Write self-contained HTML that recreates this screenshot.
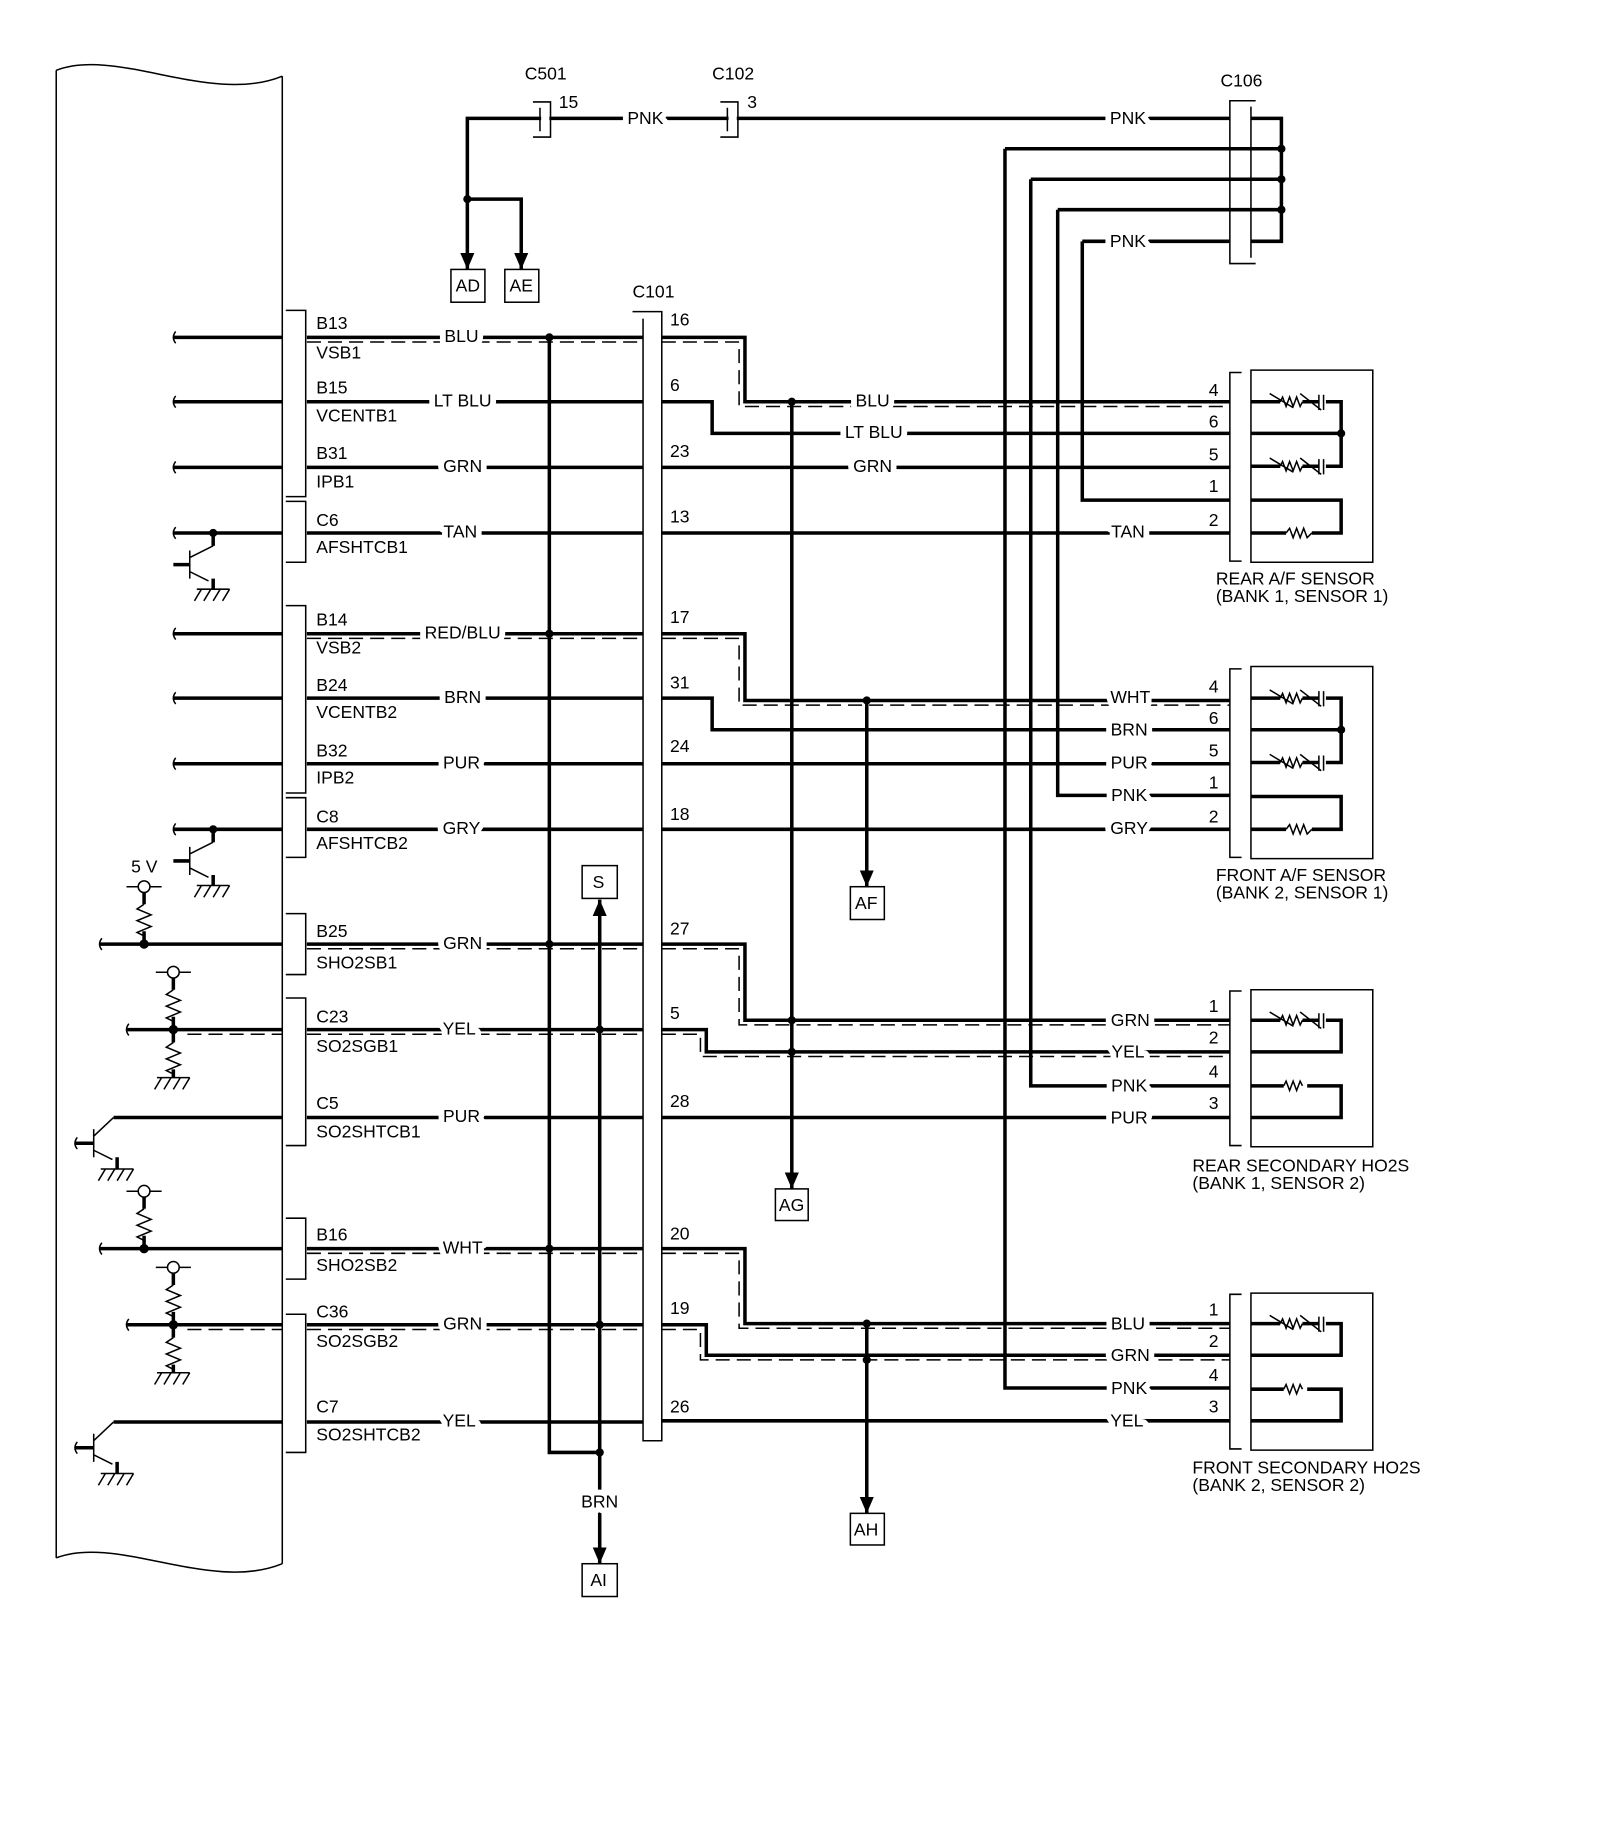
<!DOCTYPE html>
<html><head><meta charset="utf-8"><style>
html,body{margin:0;padding:0;background:#fff}
svg{display:block}
text{font-family:"Liberation Sans",sans-serif;font-size:15px;fill:#000}
.w{stroke:#000;stroke-width:3;fill:none}
.t{stroke:#000;stroke-width:1.3;fill:none}
.d{stroke:#000;stroke-width:1.3;fill:none;stroke-dasharray:12,6}
.lb{paint-order:stroke;stroke:#fff;stroke-width:10px;stroke-linejoin:round}
</style></head><body>
<svg width="1600" height="1839" viewBox="0 0 1366 1570" xmlns="http://www.w3.org/2000/svg">
<defs>
<marker id="ar" markerWidth="16" markerHeight="14" refX="14" refY="7" orient="auto" markerUnits="userSpaceOnUse"><path d="M0,1 L14,7 L0,13 Z" fill="#000"/></marker>
</defs>
<!-- ECM -->
<path class="t" d="M48,60 C100,40 180,90 241,65 M48,60 V1330 M241,65 V1335 M48,1330 C100,1310 180,1360 241,1335"/>
<!-- ECM brackets -->
<path class="t" d="M244,265 H261 V424 H244 M244,428 H261 V480 H244 M244,517 H261 V677 H244 M244,681 H261 V732 H244 M244,780 H261 V832 H244 M244,852 H261 V978 H244 M244,1040 H261 V1092 H244 M244,1122 H261 V1240 H244"/>
<!-- left wires -->
<path class="w" d="M148,288H241 M148,343H241 M148,399H241 M148,455H241 M148,541H241 M148,596H241 M148,652H241 M148,708H241 M85,806H241 M108,879H241 M97,954H241 M85,1066H241 M108,1131H241 M97,1214H241"/>
<path class="t" d="M150,283 q-4,5 0,10 M150,338 q-4,5 0,10 M150,394 q-4,5 0,10 M150,450 q-4,5 0,10 M150,536 q-4,5 0,10 M150,591 q-4,5 0,10 M150,647 q-4,5 0,10 M150,703 q-4,5 0,10 M87,801 q-4,5 0,10 M110,874 q-4,5 0,10 M87,1061 q-4,5 0,10 M110,1126 q-4,5 0,10"/>
<!-- transistors C6, C8 -->
<g id="tr1">
<circle cx="182" cy="455" r="3.5"/>
<path class="w" d="M182,455 V466 M182,494 V503 M148,482 H162"/>
<path class="t" d="M162,470 V494 M162,476 L182,466 M162,488 L178,496 M168,503 H196 M172,503 l-6,10 M180,503 l-6,10 M188,503 l-6,10 M196,503 l-6,10"/>
</g>
<use href="#tr1" y="253"/>
<!-- C5 / C7 transistors -->
<g id="tr2">
<path class="w" d="M64,976 H80 M100,988 V998"/>
<path class="t" d="M80,964 V988 M80,970 L97,954 M80,982 L96,990 M86,998 H114 M90,998 l-6,10 M98,998 l-6,10 M106,998 l-6,10 M114,998 l-6,10 M66,971 q-4,5 0,10"/>
</g>
<use href="#tr2" y="260"/>
<!-- 5V pullups -->
<text x="112" y="745">5 V</text>
<g id="pu1">
<circle cx="123" cy="757" r="5" fill="#fff" stroke="#000" stroke-width="1.3"/>
<path class="t" d="M108,757 H118 M128,757 H138 M123,772 l-6,4 l12,5 l-12,5 l12,5 l-12,5 l6,3"/>
<path class="w" d="M123,762 V772 M123,795 V806"/>
<circle cx="123" cy="806" r="4"/>
</g>
<use href="#pu1" y="260"/>
<g id="pu2">
<circle cx="148" cy="830" r="5" fill="#fff" stroke="#000" stroke-width="1.3"/>
<path class="t" d="M133,830 H143 M153,830 H163 M148,845 l-6,4 l12,5 l-12,5 l12,5 l-12,5 l6,3 M148,890 l-6,4 l12,5 l-12,5 l12,5 l-12,5 l6,3 M134,920 H162 M138,920 l-6,10 M146,920 l-6,10 M154,920 l-6,10 M162,920 l-6,10"/>
<path class="w" d="M148,835 V845 M148,868 V890 M148,913 V920"/>
<circle cx="148" cy="879" r="4"/>
<path class="d" d="M160,883 H241"/>
</g>
<use href="#pu2" y="252"/>
<!-- ECM pin labels -->
<g>
<text x="270" y="281">B13</text><text x="270" y="306">VSB1</text>
<text x="270" y="336">B15</text><text x="270" y="360">VCENTB1</text>
<text x="270" y="392">B31</text><text x="270" y="416">IPB1</text>
<text x="270" y="449">C6</text><text x="270" y="472">AFSHTCB1</text>
<text x="270" y="534">B14</text><text x="270" y="558">VSB2</text>
<text x="270" y="590">B24</text><text x="270" y="613">VCENTB2</text>
<text x="270" y="646">B32</text><text x="270" y="669">IPB2</text>
<text x="270" y="702">C8</text><text x="270" y="725">AFSHTCB2</text>
<text x="270" y="800">B25</text><text x="270" y="827">SHO2SB1</text>
<text x="270" y="873">C23</text><text x="270" y="898">SO2SGB1</text>
<text x="270" y="947">C5</text><text x="270" y="971">SO2SHTCB1</text>
<text x="270" y="1059">B16</text><text x="270" y="1085">SHO2SB2</text>
<text x="270" y="1125">C36</text><text x="270" y="1150">SO2SGB2</text>
<text x="270" y="1206">C7</text><text x="270" y="1230">SO2SHTCB2</text>
</g>
<!-- wires ECM -> C101 -->
<path class="w" d="M262,288H549 M262,343H549 M262,399H549 M262,455H549 M262,541H549 M262,596H549 M262,652H549 M262,708H549 M262,806H549 M262,879H549 M262,954H549 M262,1066H549 M262,1131H549 M262,1214H549"/>
<path class="d" d="M262,292H549 M262,545H549 M262,810H549 M262,883H549 M262,1070H549 M262,1135H549"/>
<!-- bus 469 / 512 -->
<path class="w" d="M469,288 V1240 H512"/>
<path class="w" d="M512,1240 V768" marker-end="url(#ar)" />
<path class="w" d="M512,1240 V1335" marker-end="url(#ar)"/>
<g fill="#000"><circle cx="469" cy="288" r="3.5"/><circle cx="469" cy="541" r="3.5"/><circle cx="469" cy="806" r="3.5"/><circle cx="469" cy="1066" r="3.5"/><circle cx="512" cy="879" r="3.5"/><circle cx="512" cy="1131" r="3.5"/><circle cx="512" cy="1240" r="3.5"/></g>
<rect x="497" y="739" width="30" height="28" class="t" fill="#fff"/><text x="506" y="758">S</text>
<text x="512" y="1287" text-anchor="middle" class="lb">BRN</text>
<rect x="497" y="1335" width="30" height="28" class="t" fill="#fff"/><text x="504" y="1354">AI</text>
<!-- color labels left -->
<g text-anchor="middle">
<text class="lb" x="394" y="292">BLU</text><text class="lb" x="395" y="347">LT BLU</text><text class="lb" x="395" y="403">GRN</text><text class="lb" x="393" y="459">TAN</text>
<text class="lb" x="395" y="545">RED/BLU</text><text class="lb" x="395" y="600">BRN</text><text class="lb" x="394" y="656">PUR</text><text class="lb" x="394" y="712">GRY</text>
<text class="lb" x="395" y="810">GRN</text><text class="lb" x="392" y="883">YEL</text><text class="lb" x="394" y="958">PUR</text>
<text class="lb" x="395" y="1070">WHT</text><text class="lb" x="395" y="1135">GRN</text><text class="lb" x="392" y="1218">YEL</text>
</g>
<!-- C101 -->
<text x="540" y="254">C101</text>
<path class="t" d="M540,266 H565 V1230 H549 V272"/>
<g>
<text x="572" y="278">16</text><text x="572" y="334">6</text><text x="572" y="390">23</text><text x="572" y="446">13</text>
<text x="572" y="532">17</text><text x="572" y="588">31</text><text x="572" y="642">24</text><text x="572" y="700">18</text>
<text x="572" y="798">27</text><text x="572" y="870">5</text><text x="572" y="945">28</text>
<text x="572" y="1058">20</text><text x="572" y="1122">19</text><text x="572" y="1206">26</text>
</g>
<!-- C101 -> right -->
<path class="w" d="M565,288 H636 V343 H1050 M565,343 H608 V370 H1050 M565,399 H1050 M565,455 H1050
M565,541 H636 V598 H1050 M565,596 H608 V623 H1050 M565,652 H1050 M565,708 H1050
M565,806 H636 V871 H1050 M565,879 H603 V898 H1050 M565,954 H1050
M565,1066 H636 V1130 H1050 M565,1131 H603 V1157 H1050 M565,1213 H1050"/>
<path class="d" d="M565,292 H631 V347 H1050 M565,545 H631 V602 H1050 M565,810 H631 V875 H1050 M565,883 H598 V902 H1050 M565,1070 H631 V1134 H1050 M565,1135 H598 V1161 H1050"/>
<!-- taps -->
<path class="w" d="M676,343 V1015" marker-end="url(#ar)"/>
<path class="w" d="M740,598 V757" marker-end="url(#ar)"/>
<path class="w" d="M740,1130 V1292" marker-end="url(#ar)"/>
<g fill="#000"><circle cx="676" cy="343" r="3.5"/><circle cx="676" cy="871" r="3.5"/><circle cx="676" cy="898" r="3.5"/><circle cx="740" cy="598" r="3.5"/><circle cx="740" cy="1130" r="3.5"/><circle cx="740" cy="1161" r="3.5"/></g>
<rect x="662" y="1015" width="28" height="27" class="t" fill="#fff"/><text x="665" y="1034">AG</text>
<rect x="726" y="757" width="29" height="28" class="t" fill="#fff"/><text x="730" y="776">AF</text>
<rect x="726" y="1292" width="29" height="27" class="t" fill="#fff"/><text x="729" y="1311">AH</text>
<!-- mid labels -->
<g text-anchor="middle">
<text class="lb" x="745" y="347">BLU</text><text class="lb" x="746" y="374">LT BLU</text><text class="lb" x="745" y="403">GRN</text>
</g>
<!-- top PNK -->
<text x="448" y="68">C501</text><text x="608" y="68">C102</text>
<path class="w" d="M1050,101 H399 V230" marker-end="url(#ar)"/>
<path class="w" d="M399,170 H445 V230" marker-end="url(#ar)"/>
<circle cx="399" cy="170" r="3.5"/>
<path class="t" d="M455,87 H470 V117 H455 M461,92 V112 M615,87 H630 V117 H615 M621,92 V112"/>
<rect x="462" y="99" width="7" height="5" fill="#fff"/><rect x="622" y="99" width="7" height="5" fill="#fff"/>
<text x="477" y="92">15</text><text x="638" y="92">3</text>
<text class="lb" x="551" y="106" text-anchor="middle">PNK</text>
<rect x="385" y="230" width="29" height="28" class="t" fill="#fff"/><text x="389" y="249">AD</text>
<rect x="431" y="230" width="29" height="28" class="t" fill="#fff"/><text x="435" y="249">AE</text>
<!-- C106 -->
<text x="1042" y="74">C106</text>
<path class="t" d="M1072,86 H1050 V225 H1072 M1068,91 V220"/>
<path class="w" d="M1068,101 H1094 V206 H1068 M858,127 H1094 M880,153 H1094 M903,179 H1094 M924,206 H1050 M858,127 V1185 H1050 M880,153 V927 H1050 M903,179 V679 H1050 M924,206 V427 H1050"/>
<g fill="#000"><circle cx="1094" cy="127" r="3.5"/><circle cx="1094" cy="153" r="3.5"/><circle cx="1094" cy="179" r="3.5"/></g>
<!-- right labels -->
<g text-anchor="middle">
<text class="lb" x="963" y="106">PNK</text><text class="lb" x="963" y="211">PNK</text>
<text class="lb" x="963" y="459">TAN</text>
<text class="lb" x="965" y="600">WHT</text><text class="lb" x="964" y="628">BRN</text><text class="lb" x="964" y="656">PUR</text><text class="lb" x="964" y="684">PNK</text><text class="lb" x="964" y="712">GRY</text>
<text class="lb" x="965" y="876">GRN</text><text class="lb" x="963" y="903">YEL</text><text class="lb" x="964" y="932">PNK</text><text class="lb" x="964" y="959">PUR</text>
<text class="lb" x="963" y="1135">BLU</text><text class="lb" x="965" y="1162">GRN</text><text class="lb" x="964" y="1190">PNK</text><text class="lb" x="962" y="1218">YEL</text>
</g>
<!-- AF sensors -->
<g id="af">
<path class="t" d="M1060,318 H1050 V479 H1060 M1068,316 H1172 V480 H1068 Z"/>
<path class="w" d="M1068,343 H1093 M1112,343 H1126 V343 M1132,343 H1145 V398 H1132 M1126,398 H1112 M1093,398 H1068 M1068,370 H1145 M1068,427 H1145 V455 H1120 M1098,455 H1068"/>
<path class="t" d="M1093,343 l2,-4 l3,8 l3,-8 l3,8 l3,-8 l3,8 l2,-4 M1093,398 l2,-4 l3,8 l3,-8 l3,8 l3,-8 l3,8 l2,-4 M1098,455 l3,-4 l3,8 l3,-8 l3,8 l3,-8 l3,8 l4,-4 M1126,337 V350 M1130,337 V350 M1126,392 V405 M1130,392 V405 M1084,336 L1104,348 M1110,336 L1128,350 M1084,391 L1104,403 M1110,391 L1128,405"/>
<circle cx="1145" cy="370" r="3.5"/>
<text x="1032" y="338">4</text><text x="1032" y="365">6</text><text x="1032" y="393">5</text><text x="1032" y="420">1</text><text x="1032" y="449">2</text>
</g>
<use href="#af" y="253"/>
<text x="1038" y="499">REAR A/F SENSOR</text><text x="1038" y="514">(BANK 1, SENSOR 1)</text>
<text x="1038" y="752">FRONT A/F SENSOR</text><text x="1038" y="767">(BANK 2, SENSOR 1)</text>
<!-- HO2S sensors -->
<g id="ho">
<path class="t" d="M1060,846 H1050 V978 H1060 M1068,845 H1172 V979 H1068 Z"/>
<path class="w" d="M1068,871 H1093 M1112,871 H1126 M1132,871 H1145 V898 H1068 M1068,927 H1096 M1116,927 H1145 V954 H1068"/>
<path class="t" d="M1093,871 l2,-4 l3,8 l3,-8 l3,8 l3,-8 l3,8 l2,-4 M1096,927 l2,-4 l3,8 l3,-8 l3,8 l3,-8 l2,4 M1126,865 V878 M1130,865 V878 M1084,864 L1104,876 M1110,864 L1128,878"/>
<text x="1032" y="864">1</text><text x="1032" y="891">2</text><text x="1032" y="920">4</text><text x="1032" y="947">3</text>
</g>
<use href="#ho" y="259"/>
<text x="1018" y="1000">REAR SECONDARY HO2S</text><text x="1018" y="1015">(BANK 1, SENSOR 2)</text>
<text x="1018" y="1258">FRONT SECONDARY HO2S</text><text x="1018" y="1273">(BANK 2, SENSOR 2)</text>
</svg>
</body></html>
